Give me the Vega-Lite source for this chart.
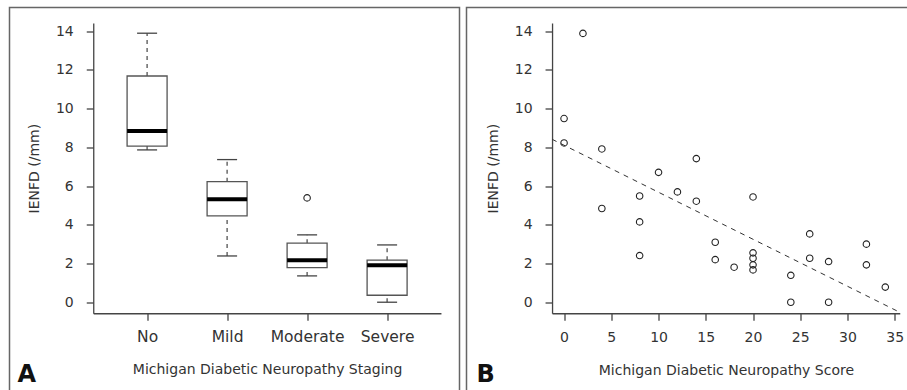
{
  "$schema": "https://vega.github.io/schema/vega-lite/v6.json",
  "padding": {"left": 8.5, "top": 6.5, "right": -5.5, "bottom": -4},
  "background": "white",
  "spacing": 5,
  "config": {
    "view": {"stroke": "#666", "strokeWidth": 1.5},
    "axis": {
      "grid": false, "domainColor": "#444", "tickColor": "#444", "domainWidth": 1.3, "tickWidth": 1.3,
      "labelColor": "#333", "titleColor": "#333", "labelFont": "DejaVu Sans", "titleFont": "DejaVu Sans",
      "labelFontSize": 14, "titleFontSize": 14, "titleFontWeight": "normal", "tickSize": 7,
      "labelOverlap": false, "labelFlush": false
    },
    "title": {"font": "DejaVu Sans", "fontSize": 24, "fontWeight": "bold", "color": "#111"}
  },
  "datasets": {
    "boxes": [
      {"stage": "No", "lower": 7.87, "q1": 8.07, "median": 8.85, "q3": 11.69, "upper": 13.9},
      {"stage": "Mild", "lower": 2.39, "q1": 4.46, "median": 5.32, "q3": 6.23, "upper": 7.37},
      {"stage": "Moderate", "lower": 1.36, "q1": 1.79, "median": 2.17, "q3": 3.05, "upper": 3.48},
      {"stage": "Severe", "lower": 0.0, "q1": 0.36, "median": 1.91, "q3": 2.17, "upper": 2.96}
    ],
    "outliers": [{"stage": "Moderate", "ienfd": 5.39}],
    "scores": [
      {"mdns": 0, "ienfd": 9.49}, {"mdns": 0, "ienfd": 8.23}, {"mdns": 2, "ienfd": 13.89},
      {"mdns": 4, "ienfd": 7.92}, {"mdns": 4, "ienfd": 4.84}, {"mdns": 8, "ienfd": 5.49},
      {"mdns": 8, "ienfd": 4.15}, {"mdns": 8, "ienfd": 2.41}, {"mdns": 10, "ienfd": 6.71},
      {"mdns": 12, "ienfd": 5.7}, {"mdns": 14, "ienfd": 7.42}, {"mdns": 14, "ienfd": 5.22},
      {"mdns": 16, "ienfd": 3.1}, {"mdns": 16, "ienfd": 2.2}, {"mdns": 18, "ienfd": 1.81},
      {"mdns": 20, "ienfd": 5.44}, {"mdns": 20, "ienfd": 2.55}, {"mdns": 20, "ienfd": 2.27},
      {"mdns": 20, "ienfd": 1.93}, {"mdns": 20, "ienfd": 1.67}, {"mdns": 24, "ienfd": 1.39},
      {"mdns": 24, "ienfd": 0.0}, {"mdns": 26, "ienfd": 3.53}, {"mdns": 26, "ienfd": 2.27},
      {"mdns": 28, "ienfd": 2.1}, {"mdns": 28, "ienfd": 0.0}, {"mdns": 32, "ienfd": 3.0},
      {"mdns": 32, "ienfd": 1.93}, {"mdns": 34, "ienfd": 0.78}
    ],
    "fit": [{"mdns": -1.27, "ienfd": 8.42}, {"mdns": 35.53, "ienfd": -0.52}]
  },
  "hconcat": [
    {
      "width": 450,
      "height": 386,
      "title": {"text": "A", "orient": "bottom", "anchor": "start", "frame": "group", "offset": -31, "dx": 8},
      "encoding": {
        "x": {
          "field": "stage", "type": "nominal",
          "scale": {"type": "point", "domain": ["No", "Mild", "Moderate", "Severe"], "range": [83.75, 431.45], "padding": 0.673},
          "axis": {"offset": -80.25, "labelPadding": 9, "titlePadding": 18, "labelAngle": 0, "labelFontSize": 15.5},
          "title": "Michigan Diabetic Neuropathy Staging"
        }
      },
      "layer": [
        {
          "data": {"name": "boxes"},
          "mark": {"type": "rule", "strokeDash": [4, 4], "color": "#444", "strokeWidth": 1.2},
          "encoding": {
            "y": {
              "field": "lower", "type": "quantitative", "title": "IENFD (/mm)",
              "scale": {"domain": [-0.57, 14.43], "range": [305.75, 15.45], "nice": false, "zero": false},
              "axis": {"offset": -83.75, "values": [0, 2, 4, 6, 8, 10, 12, 14], "labelPadding": 13, "titlePadding": 14}
            },
            "y2": {"field": "q1"}
          }
        },
        {
          "data": {"name": "boxes"},
          "mark": {"type": "rule", "strokeDash": [4, 4], "color": "#444", "strokeWidth": 1.2},
          "encoding": {"y": {"field": "q3", "type": "quantitative", "title": "IENFD (/mm)"}, "y2": {"field": "upper"}}
        },
        {
          "data": {"name": "boxes"},
          "mark": {"type": "tick", "size": 20, "thickness": 1.3, "color": "#444", "opacity": 1},
          "encoding": {"y": {"field": "lower", "type": "quantitative", "title": "IENFD (/mm)"}}
        },
        {
          "data": {"name": "boxes"},
          "mark": {"type": "tick", "size": 20, "thickness": 1.3, "color": "#444", "opacity": 1},
          "encoding": {"y": {"field": "upper", "type": "quantitative", "title": "IENFD (/mm)"}}
        },
        {
          "data": {"name": "boxes"},
          "mark": {"type": "bar", "size": 40, "fill": "white", "stroke": "#555", "strokeWidth": 1.3, "opacity": 1},
          "encoding": {"y": {"field": "q1", "type": "quantitative", "title": "IENFD (/mm)"}, "y2": {"field": "q3"}}
        },
        {
          "data": {"name": "boxes"},
          "mark": {"type": "tick", "size": 40, "thickness": 4, "color": "#000", "opacity": 1},
          "encoding": {"y": {"field": "median", "type": "quantitative", "title": "IENFD (/mm)"}}
        },
        {
          "data": {"name": "outliers"},
          "mark": {"type": "point", "shape": "circle", "filled": false, "size": 42, "stroke": "#222", "strokeWidth": 1.1, "opacity": 1},
          "encoding": {"y": {"field": "ienfd", "type": "quantitative", "title": "IENFD (/mm)"}}
        }
      ]
    },
    {
      "width": 446,
      "height": 386,
      "title": {"text": "B", "orient": "bottom", "anchor": "start", "frame": "group", "offset": -31, "dx": 10},
      "encoding": {
        "x": {
          "field": "mdns", "type": "quantitative", "title": "Michigan Diabetic Neuropathy Score",
          "scale": {"domain": [-1.27, 35.53], "range": [85.55, 433.25], "nice": false, "zero": false},
          "axis": {"offset": -80.25, "values": [0, 5, 10, 15, 20, 25, 30, 35], "labelPadding": 10, "titlePadding": 19}
        },
        "y": {
          "field": "ienfd", "type": "quantitative", "title": "IENFD (/mm)",
          "scale": {"domain": [-0.57, 14.43], "range": [305.75, 15.45], "nice": false, "zero": false},
          "axis": {"offset": -85.55, "values": [0, 2, 4, 6, 8, 10, 12, 14], "labelPadding": 13, "titlePadding": 14}
        }
      },
      "layer": [
        {
          "data": {"name": "fit"},
          "mark": {"type": "line", "strokeDash": [5, 5], "color": "#333", "strokeWidth": 1}
        },
        {
          "data": {"name": "scores"},
          "mark": {"type": "point", "shape": "circle", "filled": false, "size": 42, "stroke": "#222", "strokeWidth": 1.1, "opacity": 1}
        }
      ]
    }
  ]
}
